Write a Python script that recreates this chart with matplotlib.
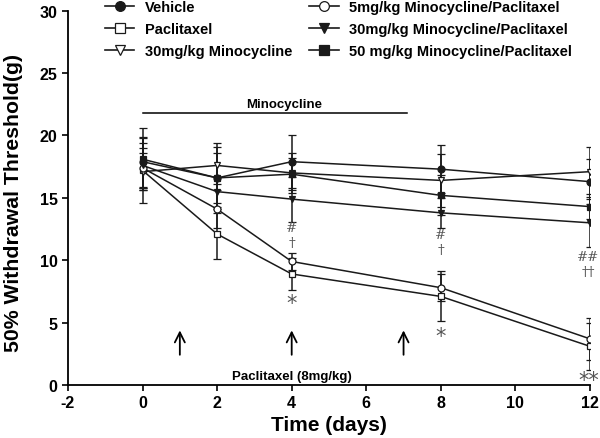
import matplotlib
matplotlib.use("Agg")
import matplotlib.pyplot as plt
from matplotlib.lines import Line2D

plt.rcParams["font.family"] = ["Liberation Sans", "DejaVu Sans"]
plt.rcParams["font.weight"] = "bold"
plt.rcParams["axes.labelweight"] = "bold"
plt.rcParams["axes.unicode_minus"] = False

days = [0, 2, 4, 8, 12]

vehicle = [17.9, 16.6, 17.9, 17.3, 16.3]
vehicle_err = [2.0, 2.8, 2.1, 1.9, 1.8]
paclitaxel = [17.2, 12.1, 8.9, 7.1, 3.1]
paclitaxel_err = [2.6, 2.0, 1.3, 2.0, 1.9]
mino30 = [17.1, 17.6, 17.0, 16.4, 17.1]
mino30_err = [1.5, 1.5, 1.6, 2.1, 2.0]
mino5_pac = [17.4, 14.1, 9.9, 7.8, 3.7]
mino5_pac_err = [1.6, 1.5, 0.7, 1.1, 1.7]
mino30_pac = [17.6, 15.5, 14.9, 13.8, 13.0]
mino30_pac_err = [1.8, 1.2, 1.8, 1.2, 1.9]
mino50_pac = [18.1, 16.6, 16.9, 15.2, 14.3]
mino50_pac_err = [2.5, 2.0, 1.3, 1.6, 1.0]

arrow_days = [1, 4, 7]

fig = plt.figure(figsize=(6.0, 4.39), dpi=100)
ax = fig.add_axes([0.1133, 0.1207, 0.87, 0.8526])

INK = "#1a1a1a"
series = [
    ("Vehicle", vehicle, vehicle_err, "o", INK),
    ("Paclitaxel", paclitaxel, paclitaxel_err, "s", "white"),
    ("30mg/kg Minocycline", mino30, mino30_err, "v", "white"),
    ("5mg/kg Minocycline/Paclitaxel", mino5_pac, mino5_pac_err, "o", "white"),
    ("30mg/kg Minocycline/Paclitaxel", mino30_pac, mino30_pac_err, "v", INK),
    ("50 mg/kg Minocycline/Paclitaxel", mino50_pac, mino50_pac_err, "s", INK),
]
handles = []
for label, y, err, m, fc in series:
    ax.errorbar(days, y, yerr=err, color=INK, lw=1.1, marker=m,
                ms=5, mfc=fc, mec=INK, mew=0.9, capsize=3,
                elinewidth=1.1, capthick=1.1)
    handles.append(Line2D([], [], color=INK, lw=1.2, marker=m, ms=7,
                          mfc=fc, mec=INK, mew=0.9, label=label))

# treatment annotations
ax.plot([0, 7.1], [21.8, 21.8], color="black", lw=1.1)
ax.text(3.8, 22.5, "Minocycline", ha="center", va="center", fontsize=9.5)
for d in arrow_days:
    ax.annotate("", xy=(d, 4.6), xytext=(d, 2.2),
                arrowprops=dict(arrowstyle="->", color="black", lw=1.3,
                                mutation_scale=18))
ax.text(4, 0.75, "Paclitaxel (8mg/kg)", ha="center", va="center", fontsize=9.5)

# significance marks
grey = "#555555"
sym = dict(ha="center", va="center", color=grey, fontweight="normal",
           fontsize=9.5, family=["DejaVu Serif"])
star = dict(sym, fontsize=15, family=["DejaVu Sans"])
ax.text(4, 6.6, "*", **star)
ax.text(8, 3.9, "*", **star)
ax.text(11.97, 0.4, "**", **star)
ax.text(4, 12.6, "#", **sym)
ax.text(4, 11.4, "†", **sym)
ax.text(8, 12.1, "#", **sym)
ax.text(8, 10.9, "†", **sym)
ax.text(11.95, 10.3, "##", **sym)
ax.text(11.95, 9.1, "††", **sym)

ax.set_xlim(-2, 12)
ax.set_ylim(0, 30)
ax.set_xticks(range(-2, 13, 2))
ax.set_yticks(range(0, 31, 5))
ax.tick_params(labelsize=11.5, width=1.2, length=4)
for t in ax.get_xticklabels() + ax.get_yticklabels():
    t.set_fontweight("bold")
ax.spines[["top", "right"]].set_visible(False)
ax.spines[["left", "bottom"]].set_linewidth(1.3)
ax.set_xlabel("Time (days)", fontsize=15, labelpad=3)
ax.set_ylabel("50% Withdrawal Threshold(g)", fontsize=15.3)
ax.yaxis.set_label_coords(-0.086, 0.49)

ax.legend(handles=handles, ncol=2, loc="upper left",
          bbox_to_anchor=(0.06, 1.045), frameon=False, fontsize=10.5,
          handlelength=2.0, handletextpad=0.7, columnspacing=1.2,
          labelspacing=0.55, borderaxespad=0)

fig.savefig("out.png", dpi=100)
